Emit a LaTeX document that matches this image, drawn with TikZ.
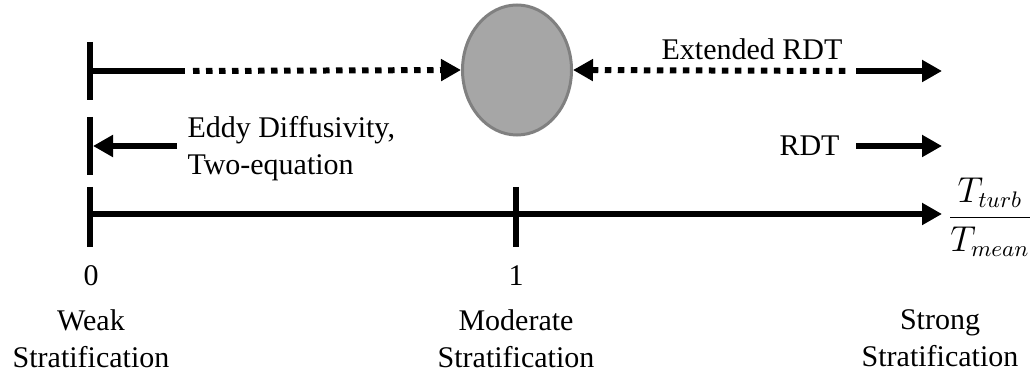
\documentclass[tikz,border=0pt]{standalone}
\usepackage{amsmath}
\usepackage{fontspec}
\setmainfont{Liberation Serif}
\usetikzlibrary{arrows.meta,positioning,shapes.geometric}
\definecolor{ovalfill}{HTML}{A6A6A6}
\definecolor{ovalline}{HTML}{808080}

\begin{document}
\begin{tikzpicture}[x=0.4pt,y=-0.4pt,>={Triangle[length=8pt,width=8.4pt]},font=\fontsize{12}{14.8}\selectfont]
\tikzstyle{bar}=[line width=2.4pt]
\tikzstyle{dots}=[line width=2.4pt,dash pattern=on 2.6pt off 2.6pt]
\tikzstyle{txt}=[inner sep=0pt,align=center]
\useasboundingbox (0,0) rectangle (1033,372);
% left marks and tick at 1
\coordinate (top0) at (90,71);
\coordinate (mid0) at (90,146);
\coordinate (ax0) at (90,214);
\coordinate (ax1) at (516,214);
\foreach \c in {top0,mid0} \draw[bar] (\c) ++(0,-29) -- ++(0,58);
\foreach \c in {ax0,ax1} \draw[bar] (\c) ++(0,-27) -- ++(0,60);
\node[ellipse,draw=ovalline,line width=1.2pt,fill=ovalfill,minimum width=43.6pt,minimum height=52pt,inner sep=0pt] (oval) at (517,70) {};
% top row: extended RDT
\coordinate (topA) at (185,71);
\coordinate (topB) at (193,71);
\coordinate (topC) at (847,71);
\coordinate (topD) at (856,71);
\coordinate (topR) at (942,71);
\draw[bar] (top0) -- (topA);
\draw[dots,->] (topB) -- (oval.west);
\draw[dots,<-] (oval.east) -- (topC);
\draw[bar,->] (topD) -- (topR);
\node[txt] (ext) at (752,49) {Extended RDT};
% middle row
\coordinate (midA) at (177,146);
\coordinate (midL) at (93,146);
\coordinate (midD) at (856,146);
\coordinate (midR) at (942,146);
\draw[bar,->] (midA) -- (midL);
\draw[bar,->] (midD) -- (midR);
\node[txt,anchor=north west,align=left] (eddy) at (187,116) {Eddy Diffusivity,\\Two-equation};
\node[txt,anchor=east] (rdt) at (840,146) {RDT};
% axis
\coordinate (axR) at (942,214);
\draw[bar,->] (ax0) -- (axR);
\node[txt] (frac) at (990,217) {\fontsize{13.5}{16}\selectfont$\dfrac{T_{turb}}{T_{mean}}$};
\node[txt] (zero) at (91,276) {0};
\node[txt] (one) at (516,276) {1};
\node[txt,anchor=north] (weak) at (91,309) {Weak\\Stratification};
\node[txt,anchor=north] (moder) at (516,309) {Moderate\\Stratification};
\node[txt,anchor=north] (strong) at (940,309) {Strong\\Stratification};
\end{tikzpicture}
\end{document}
